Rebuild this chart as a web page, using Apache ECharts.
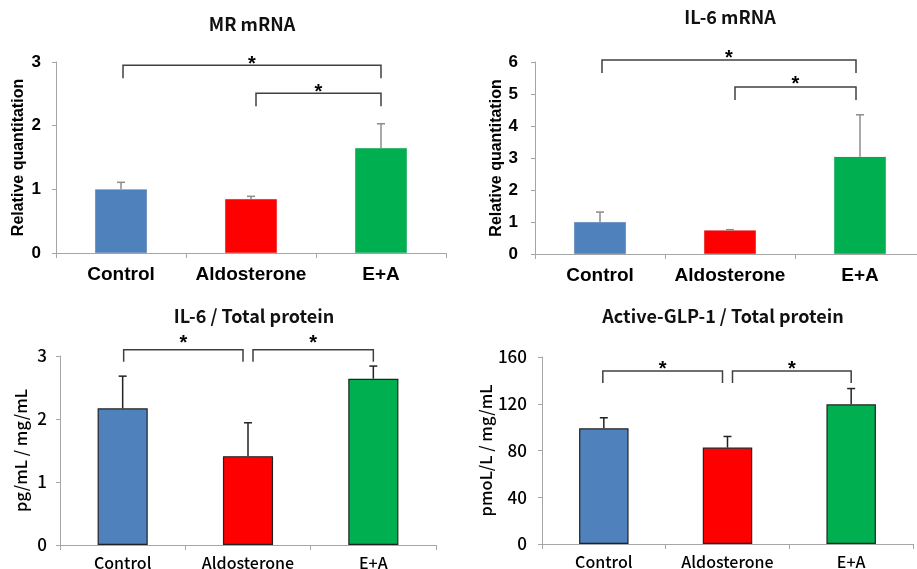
<!DOCTYPE html>
<html>
<head>
<meta charset="utf-8">
<script src="https://cdn.jsdelivr.net/npm/echarts@6/dist/echarts.min.js"></script>
<style>html,body{margin:0;padding:0;background:#fff}#c{width:917px;height:569px}</style>
</head>
<body>
<div id="c"></div>
<script>
// ---- data ----
const categories = ['Control', 'Aldosterone', 'E+A'];
const barColors = ['#4F81BD', '#FF0000', '#00B050'];

const titles = ['MR mRNA', 'IL-6 mRNA', 'IL-6 / Total protein', 'Active-GLP-1 / Total protein'];
const yNames = ['Relative quantitation', 'Relative quantitation', 'pg/mL / mg/mL', 'pmoL/L / mg/mL'];

const mrMean = [1.0, 0.85, 1.65];
const mrErr = [0.11, 0.04, 0.38];
const il6Mean = [1.0, 0.74, 3.04];
const il6Err = [0.31, 0.02, 1.31];
const il6ProtMean = [2.17, 1.41, 2.64];
const il6ProtErr = [0.51, 0.53, 0.2];
const glpMean = [99, 82.5, 119.5];
const glpErr = [9, 9.5, 13.5];

const yMax = [3, 6, 3, 160];
const yInterval = [1, 1, 1, 40];

// brackets: [fromIndex, toIndex, level]
const mrBrackets = [[0, 2, 2.95], [1, 2, 2.51]];
const il6Brackets = [[0, 2, 6.06], [1, 2, 5.22]];
const il6ProtBrackets = [[0, 1, 3.1], [1, 2, 3.1]];
const glpBrackets = [[0, 1, 148], [1, 2, 148]];

const means = [mrMean, il6Mean, il6ProtMean, glpMean];
const errs = [mrErr, il6Err, il6ProtErr, glpErr];
const brackets = [mrBrackets, il6Brackets, il6ProtBrackets, glpBrackets];

// ---- layout/style ----
const grids = [
  { left: 56, top: 62, width: 390, height: 191 },
  { left: 535, top: 62, width: 390, height: 192 },
  { left: 60, top: 356, width: 376, height: 189 },
  { left: 542, top: 357, width: 371, height: 187 }
];
const titlePos = [[252, 24], [730, 17], [254, 316], [723, 316]];
const latinFont = '"Liberation Sans", Arial, sans-serif';
const jpFont = '"Noto Sans CJK JP", sans-serif';
const isTop = [true, true, false, false];
const nameGaps = [29, 30, 31, 48];
const labelMargins = [15, 17, 13, 15];
const starShift = [-1, -2, -6, -2];
const bracketStartPad = [2, 2, 1, -1];

const option = {
  animation: false,
  backgroundColor: '#fff',
  grid: grids.map(g => Object.assign({ containLabel: false, outerBoundsMode: 'none' }, g)),
  graphic: titles.map((t, i) => ({
    type: 'text', x: titlePos[i][0], y: titlePos[i][1],
    style: {
      text: t, fill: '#111', textAlign: 'center', textVerticalAlign: 'middle',
      font: 'bold 18px ' + jpFont
    }
  })),
  xAxis: grids.map((g, i) => ({
    type: 'category', gridIndex: i, data: categories,
    axisLine: { lineStyle: { color: '#a6a6a6', width: 1 } },
    axisTick: { show: true, length: 5, lineStyle: { color: '#a6a6a6' } },
    axisLabel: isTop[i]
      ? { interval: 0, color: '#000', fontFamily: latinFont, fontWeight: 'bold', fontSize: 19, margin: 12 }
      : { interval: 0, color: '#000', fontFamily: jpFont, fontWeight: 500, fontSize: 16, margin: 10 }
  })),
  yAxis: grids.map((g, i) => ({
    type: 'value', gridIndex: i, min: 0, max: yMax[i], interval: yInterval[i],
    name: yNames[i], nameLocation: 'middle', nameGap: nameGaps[i], nameRotate: 90,
    nameTextStyle: isTop[i]
      ? { color: '#000', fontFamily: latinFont, fontWeight: 'bold', fontSize: 16 }
      : { color: '#000', fontFamily: jpFont, fontWeight: 500, fontSize: 16.5 },
    splitLine: { show: false },
    axisLine: { show: true, lineStyle: { color: '#a6a6a6', width: 1 } },
    axisTick: { show: true, length: 4, lineStyle: { color: '#a6a6a6' } },
    axisLabel: isTop[i]
      ? { color: '#000', fontFamily: latinFont, fontWeight: 'bold', fontSize: 17, margin: labelMargins[i] }
      : { color: '#000', fontFamily: jpFont, fontWeight: 500, fontSize: 17, margin: labelMargins[i] }
  })),
  series: []
};

means.forEach((m, i) => {
  option.series.push({
    type: 'bar', xAxisIndex: i, yAxisIndex: i, barWidth: '40%',
    data: m.map((v, k) => ({
      value: v,
      itemStyle: isTop[i]
        ? { color: barColors[k], borderColor: 'rgba(0,0,0,0.15)', borderWidth: 0.5 }
        : { color: barColors[k], borderColor: '#222', borderWidth: 1.2 }
    }))
  });
  option.series.push({
    type: 'custom', xAxisIndex: i, yAxisIndex: i, z: 5,
    data: m.map((v, k) => [k, v, errs[i][k]]),
    renderItem: function (params, api) {
      const x = api.value(0), v = api.value(1), e = api.value(2);
      const p0 = api.coord([x, v]);
      const p1 = api.coord([x, v + e]);
      const st = { stroke: isTop[i] ? '#8c8c8c' : '#222', lineWidth: 1.5 };
      return {
        type: 'group', children: [
          { type: 'line', shape: { x1: p0[0], y1: p0[1], x2: p1[0], y2: p1[1] }, style: st },
          { type: 'line', shape: { x1: p1[0] - 4, y1: p1[1], x2: p1[0] + 4, y2: p1[1] }, style: st }
        ]
      };
    }
  });
  option.series.push({
    type: 'custom', xAxisIndex: i, yAxisIndex: i, z: 6, clip: false,
    data: brackets[i],
    renderItem: function (params, api) {
      const a = api.value(0), b = api.value(1), lv = api.value(2);
      const pa = api.coord([a, lv]);
      const pb = api.coord([b, lv]);
      const x1 = pa[0] + (a === 1 ? 5 : bracketStartPad[i]);
      const x2 = pb[0] - (b === 1 ? 5 : (isTop[i] && i === 1 ? 4 : 0));
      const y = pa[1];
      const drop = isTop[i] ? 13 : 12;
      const st = { stroke: '#404040', lineWidth: 1.5, fill: null };
      return {
        type: 'group', children: [
          { type: 'polyline', shape: { points: [[x1, y + drop], [x1, y], [x2, y], [x2, y + drop]] }, style: st },
          { type: 'text', x: (x1 + x2) / 2, y: y + starShift[i],
            style: { text: '*', fill: '#000', textAlign: 'center', textVerticalAlign: 'middle',
                     font: 'bold 20px ' + latinFont } }
        ]
      };
    }
  });
});

const chart = echarts.init(document.getElementById('c'), null, { renderer: 'canvas' });
chart.setOption(option);
</script>
</body>
</html>
